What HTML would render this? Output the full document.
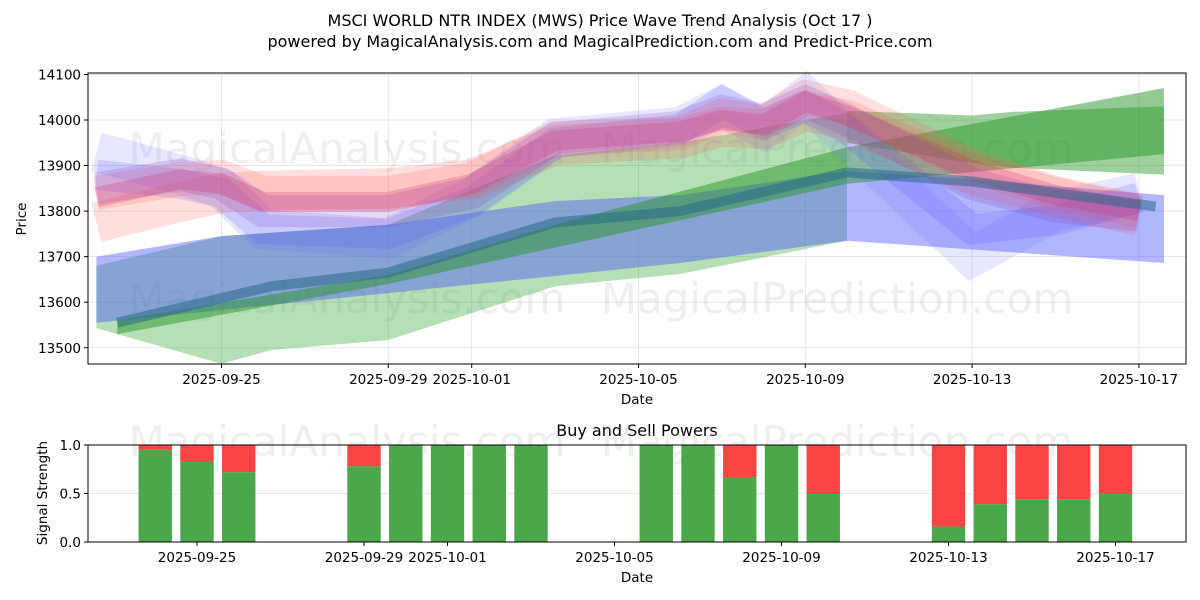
<!DOCTYPE html>
<html><head><meta charset="utf-8"><style>
body{margin:0;background:#fff;}
svg{display:block;font-family:"DejaVu Sans","Liberation Sans",sans-serif;}
</style></head><body>
<svg id="chart" width="1200" height="600" viewBox="0 0 1200 600">
<rect width="1200" height="600" fill="#fff"/>
<text x="600" y="26" text-anchor="middle" font-size="16">MSCI WORLD NTR INDEX (MWS) Price Wave Trend Analysis (Oct 17 )</text>
<text x="600" y="47" text-anchor="middle" font-size="16">powered by MagicalAnalysis.com and MagicalPrediction.com and Predict-Price.com</text>
<g id="topPanel"></g>
<g id="bottomPanel"></g>
</svg>
<script>
// ---------- data ----------
const topTickLabels = ["2025-09-25","2025-09-29","2025-10-01","2025-10-05","2025-10-09","2025-10-13","2025-10-17"];
const topTickDays = [0,4,6,10,14,18,22];
const priceTicks = [13500,13600,13700,13800,13900,14000,14100];
const waveDays = [-3,-1,0,1,4,6,8,11,12,13,14,15,18,20,22];
const waveRed1 = [13775,13820,13840,13845,13850,13870,13945,13960,13985,13980,14020,14000,13880,13830,13790];
const waveRed2 = [13840,13870,13875,13840,13840,13870,13960,13970,14010,13995,14050,14030,13900,13840,13800];
const waveMagenta = [13830,13870,13860,13820,13820,13860,13955,13975,14000,13990,14040,14010,13890,13835,13800];
const wavePurple = [13850,13880,13860,13800,13800,13840,13960,13985,14020,14000,14040,14000,13860,13810,13790];
const waveBlue1 = [13930,13880,13850,13760,13740,13830,13960,13985,14030,13980,14050,13960,13700,13800,13840];
const waveBlue2 = [13880,13860,13840,13760,13750,13820,13950,13980,14040,13990,14030,13980,13760,13780,13830];
const greenBigUpDays = [-3,0,4,8,11,14,15];
const greenBigUp = [13680,13745,13770,13922,13950,14000,14015];
const greenBigLoDays = [-3,0,1.2,4,8,11,15];
const greenBigLo = [13543,13465,13495,13517,13635,13662,13735];
const greenDiagDays = [-2.5,4,8,15,22.6];
const greenDiagUp = [13560,13660,13770,13940,14070];
const greenDiagLo = [13530,13640,13720,13860,13925];
const greenFlatDays = [15,18,19,22.6];
const greenFlatUp = [14020,14010,14018,14030];
const greenFlatLo = [13950,13905,13895,13880];
const blueUpDays = [-3,0,4,8,11,15,18,22.6];
const blueUp = [13700,13745,13770,13822,13835,13888,13870,13835];
const blueLoDays = [-3,4,11,15,22.6];
const blueLo = [13555,13620,13686,13735,13686];
const trendDays = [-2.5,1.2,4,8,11,15,18,22.4];
const trendVals = [13555,13635,13665,13775,13800,13885,13865,13810];
const barDays = [-1,0,1,4,5,6,7,8,11,12,13,14,15,18,19,20,21,22];
const buyPower = [0.95,0.83,0.72,0.78,1,1,1,1,1,1,0.67,1,0.5,0.16,0.39,0.44,0.44,0.5];
const signalTicks = [0,0.5,1];

const NS="http://www.w3.org/2000/svg";
function mk(parent,tag,attrs){const e=document.createElementNS(NS,tag);for(const k in attrs)e.setAttribute(k,attrs[k]);parent.appendChild(e);return e;}
const topG=document.getElementById('topPanel'), botG=document.getElementById('bottomPanel');
const TL=88,TR=1186,TT=73,TB=364;
const xT=d=>221.5+41.7*d;
const yT=p=>120-(p-14000)*0.4555;
const BT=445,BB=542;
const xB=d=>197+41.75*d;
const yB=v=>BB-(BB-BT)*v;
const FS=13.5;

topTickDays.forEach(d=>{const l=mk(topG,'line',{x1:xT(d),x2:xT(d),y1:TT,y2:TB,stroke:'#e0e0e0','stroke-width':0.8});

});
priceTicks.forEach(p=>{const l=mk(topG,'line',{x1:TL,x2:TR,y1:yT(p),y2:yT(p),stroke:'#e0e0e0','stroke-width':0.8});

});

[[347,163,'MagicalAnalysis.com'],[837,163,'MagicalPrediction.com'],[347,313,'MagicalAnalysis.com'],[837,313,'MagicalPrediction.com']].forEach(w=>{
const t=mk(topG,'text',{x:w[0],y:w[1],'text-anchor':'middle','font-size':42,fill:'rgba(180,180,190,0.22)'});t.textContent=w[2];

});

function band(days1,up,days2,lo,fill,name){
 let pts=days1.map((d,i)=>xT(d)+','+yT(up[i]));
 for(let i=days2.length-1;i>=0;i--)pts.push(xT(days2[i])+','+yT(lo[i]));
 const p=mk(topG,'polygon',{points:pts.join(' '),fill:fill});
 
 }
function wave(vals,w,color,op,name){
 const pts=waveDays.map((d,i)=>xT(d)+','+yT(vals[i])).join(' ');
 const p=mk(topG,'polyline',{points:pts,fill:'none',stroke:color,'stroke-width':w,'stroke-opacity':op,'stroke-linejoin':'miter'});
 
 }

band(greenBigUpDays,greenBigUp,greenBigLoDays,greenBigLo,'rgba(60,170,60,0.38)','green-wide-band');
band(blueUpDays,blueUp,blueLoDays,blueLo,'rgba(70,80,255,0.42)','blue-band');
band(greenDiagDays,greenDiagUp,greenDiagDays,greenDiagLo,'rgba(40,150,40,0.5)','green-diagonal-band');
band(greenFlatDays,greenFlatUp,greenFlatDays,greenFlatLo,'rgba(40,150,40,0.45)','green-flat-band');
wave(waveBlue1,40,'#6a6aff',0.16,'wave-blue-1');
wave(waveBlue2,30,'#5050ff',0.18,'wave-blue-2');
wave(waveRed1,40,'#ff5040',0.18,'wave-red-1');
wave(waveRed2,34,'#ff6060',0.2,'wave-red-2');
wave(wavePurple,32,'#8040c0',0.2,'wave-purple');
wave(waveMagenta,20,'#d03070',0.26,'wave-magenta');
{const p=mk(topG,'polyline',{points:trendDays.map((d,i)=>xT(d)+','+yT(trendVals[i])).join(' '),fill:'none',stroke:'#2a6a88','stroke-width':10,'stroke-opacity':0.55});

}

{const r=mk(topG,'rect',{x:TL,y:TT,width:TR-TL,height:TB-TT,fill:'none',stroke:'#000','stroke-width':1});

}
topTickDays.forEach((d,i)=>{mk(topG,'line',{x1:xT(d),x2:xT(d),y1:TB,y2:TB+4,stroke:'#000'});
const t=mk(topG,'text',{x:xT(d),y:TB+20,'text-anchor':'middle','font-size':FS});t.textContent=topTickLabels[i];

});
priceTicks.forEach(p=>{mk(topG,'line',{x1:TL-4,x2:TL,y1:yT(p),y2:yT(p),stroke:'#000'});
const t=mk(topG,'text',{x:TL-7,y:yT(p)+5,'text-anchor':'end','font-size':FS});t.textContent=p;

});
{const t=mk(topG,'text',{x:637,y:404,'text-anchor':'middle','font-size':FS});t.textContent='Date';

}
{const t=mk(topG,'text',{x:26,y:219,'text-anchor':'middle','font-size':FS,transform:'rotate(-90 26 219)'});t.textContent='Price';

}

{const t=mk(botG,'text',{x:637,y:436,'text-anchor':'middle','font-size':16});t.textContent='Buy and Sell Powers';

}
signalTicks.forEach(v=>{const l=mk(botG,'line',{x1:TL,x2:TR,y1:yB(v),y2:yB(v),stroke:'#e0e0e0','stroke-width':0.8});

});
[[347,456,'MagicalAnalysis.com'],[837,456,'MagicalPrediction.com']].forEach(w=>{
const t=mk(botG,'text',{x:w[0],y:w[1],'text-anchor':'middle','font-size':42,fill:'rgba(180,180,190,0.22)'});t.textContent=w[2];

});
const bw=41.75*0.8;
barDays.forEach((d,i)=>{const v=buyPower[i];
const s=mk(botG,'rect',{x:xB(d)-bw/2,y:yB(1),width:bw,height:yB(v)-yB(1),fill:'#ff4444'});


const b=mk(botG,'rect',{x:xB(d)-bw/2,y:yB(v),width:bw,height:yB(0)-yB(v),fill:'#4aa84a'});

});
{const r=mk(botG,'rect',{x:TL,y:BT,width:TR-TL,height:BB-BT,fill:'none',stroke:'#000','stroke-width':1});

}
topTickDays.forEach((d,i)=>{mk(botG,'line',{x1:xB(d),x2:xB(d),y1:BB,y2:BB+4,stroke:'#000'});
const t=mk(botG,'text',{x:xB(d),y:BB+20,'text-anchor':'middle','font-size':FS});t.textContent=topTickLabels[i];

});
signalTicks.forEach(v=>{mk(botG,'line',{x1:TL-4,x2:TL,y1:yB(v),y2:yB(v),stroke:'#000'});
const t=mk(botG,'text',{x:TL-7,y:yB(v)+5,'text-anchor':'end','font-size':FS});t.textContent=v.toFixed(1);

});
{const t=mk(botG,'text',{x:637,y:582,'text-anchor':'middle','font-size':FS});t.textContent='Date';

}
{const t=mk(botG,'text',{x:47,y:493,'text-anchor':'middle','font-size':FS,transform:'rotate(-90 47 493)'});t.textContent='Signal Strength';

}
</script>
</body></html>
